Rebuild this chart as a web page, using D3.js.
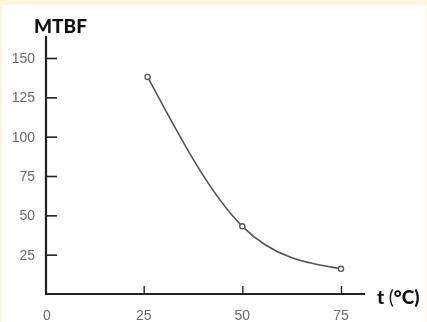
<!DOCTYPE html>
<html>
<head>
<meta charset="utf-8">
<script src="https://cdn.jsdelivr.net/npm/d3@7"></script>
<style>
  html, body { margin: 0; padding: 0; background: #fdf5de; }
  svg { display: block; }
</style>
</head>
<body>
<script>
// Mean time between failures versus temperature
const temperature = [26, 50, 75];
const mtbf = [138, 43, 16];
const xTicks = [0, 25, 50, 75];
const yTicks = [25, 50, 75, 100, 125, 150];

const W = 427, H = 322;
const svg = d3.select("body").append("svg").attr("width", W).attr("height", H);

// soft print look
const defs = svg.append("defs");
defs.append("filter").attr("id", "soft").append("feGaussianBlur").attr("stdDeviation", 0.45);

// page with a thin cream frame on the top and left
svg.append("rect").attr("x", 2).attr("y", 5).attr("width", W - 3).attr("height", H - 5).attr("fill", "#ffffff");

const plot = svg.append("g").attr("filter", "url(#soft)");

const x = d3.scaleLinear().domain([0, 75]).range([45, 341]);
const y = d3.scaleLinear().domain([0, 150]).range([294, 58]);

const axisColor = "#222";
const tickTextColor = "#6a6a6a";

// y axis
const yAxis = d3.axisRight(y).tickValues(yTicks).tickSize(11).tickFormat("");
const gy = plot.append("g").attr("transform", `translate(${x(0) + 1},0)`).call(yAxis);
gy.select(".domain").remove();
gy.selectAll(".tick line").attr("stroke", axisColor).attr("stroke-width", 1.6);
plot.append("line").attr("x1", x(0) + 1).attr("x2", x(0) + 1).attr("y1", 36).attr("y2", y(0) + 1)
  .attr("stroke", axisColor).attr("stroke-width", 2.2);

plot.append("g").selectAll("text").data(yTicks).join("text")
  .attr("x", 35).attr("y", d => y(d)).attr("dy", "0.36em")
  .attr("text-anchor", "end")
  .attr("font-family", "Liberation Sans Narrow, Liberation Sans, Arial, sans-serif")
  .attr("font-size", 14).attr("fill", tickTextColor)
  .text(d => d);

// x axis
const xAxis = d3.axisTop(x).tickValues(xTicks.filter(d => d > 0)).tickSize(8).tickFormat("");
const gx = plot.append("g").attr("transform", `translate(0,${y(0)})`).call(xAxis);
gx.select(".domain").remove();
gx.selectAll(".tick line").attr("stroke", axisColor).attr("stroke-width", 1.4);
plot.append("line").attr("x1", x(0)).attr("x2", 365).attr("y1", y(0)).attr("y2", y(0))
  .attr("stroke", axisColor).attr("stroke-width", 2.2);

plot.append("g").selectAll("text").data(xTicks).join("text")
  .attr("x", d => x(d) + (d === 0 ? 2 : 0)).attr("y", 320)
  .attr("text-anchor", "middle")
  .attr("font-family", "Liberation Sans Narrow, Liberation Sans, Arial, sans-serif")
  .attr("font-size", 14).attr("fill", tickTextColor)
  .text(d => d);

// axis titles
svg.append("text").attr("x", 34).attr("y", 33)
  .attr("font-family", "Lato, sans-serif").attr("font-weight", 900)
  .attr("font-size", 19).attr("fill", "#111").text("MTBF");

const tt = svg.append("text").attr("x", 377).attr("y", 304)
  .attr("font-family", "Lato, sans-serif").attr("font-size", 19).attr("fill", "#111");
tt.append("tspan").attr("font-weight", 900).text("t ");
tt.append("tspan").attr("font-weight", 400).text("(");
tt.append("tspan").attr("font-weight", 900).text("°C)");

// smooth curve through the measured points
const pts = temperature.map((t, i) => [t, mtbf[i]]);
const line = d3.line().x(d => x(d[0])).y(d => y(d[1])).curve(d3.curveNatural);
plot.append("path").attr("d", line(pts)).attr("fill", "none")
  .attr("stroke", "#555").attr("stroke-width", 1.6);

plot.append("g").selectAll("circle").data(pts).join("circle")
  .attr("cx", d => x(d[0])).attr("cy", d => y(d[1])).attr("r", 2.6)
  .attr("fill", "#fff").attr("stroke", "#555").attr("stroke-width", 1.3);
</script>
</body>
</html>
